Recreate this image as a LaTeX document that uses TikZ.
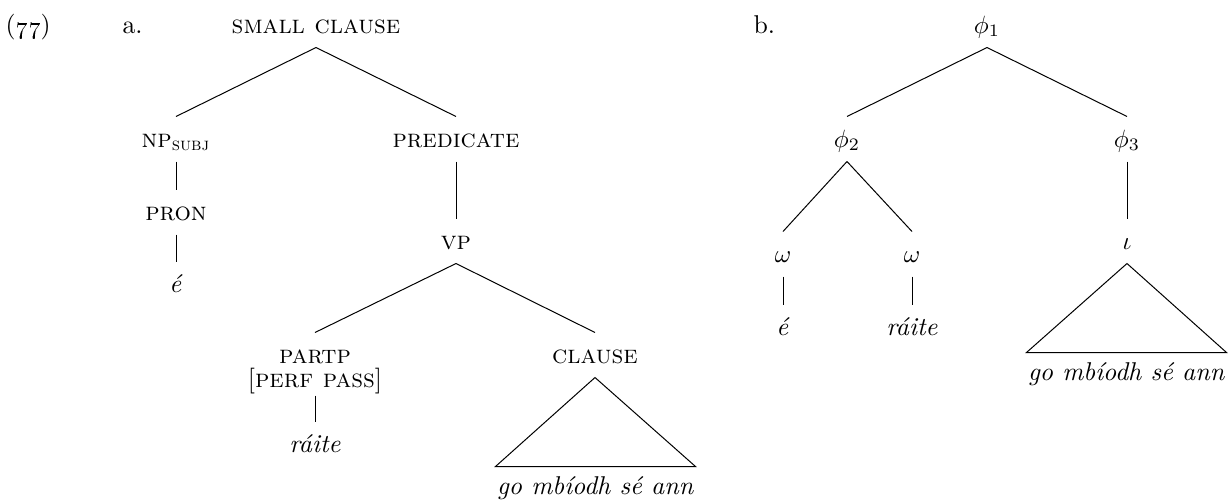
\documentclass[tikz,border=0pt]{standalone}
\usepackage{tikz}

\tikzset{
lbl/.style = {anchor=base, inner sep=0pt, text height=12pt, text depth=5.6pt},
yield/.style = {anchor=base, inner sep=0pt, text height=10.8pt, text depth=0pt, minimum width=79.6pt},
}

\begin{document}
\begin{tikzpicture}[x=0.4pt,y=-0.4pt,font=\fontsize{10.3}{12}\selectfont]
\useasboundingbox (0,0) rectangle (1228,502);

\node[anchor=base west,inner sep=0pt] (ex) at (5,33) {(\oldstylenums{77})};
\node[anchor=base west,inner sep=0pt] (a) at (122,33) {a.};
\node[anchor=base west,inner sep=0pt] (b) at (753,33) {b.};

% syntactic tree
\node[lbl] (sc) at (316,33) {\textsc{small clause}};
\node[lbl] (np) at (176,147) {\textsc{np}\textsubscript{\textsc{subj}}};
\node[lbl] (pred) at (456,147) {\textsc{predicate}};
\node[lbl] (pron) at (176,220) {\textsc{pron}};
\node[lbl] (e) at (176,292) {\textit{é}};
\node[lbl] (vp) at (456,249) {\textsc{vp}};
\node[lbl] (partp) at (315,363) {\textsc{partp}};
\node[lbl,text depth=3.2pt] (feat) at (315,387) {[\textsc{perf pass}]};
\node[lbl] (raite) at (315,452) {\textit{ráite}};
\node[lbl] (clause) at (595,363) {\textsc{clause}};
\node[yield] (ya) at (595.5,494) {\textit{go mbíodh sé ann}};

\foreach \p/\c in {sc/np,sc/pred,np/pron,pron/e,pred/vp,vp/partp,vp/clause,feat/raite}
	\draw (\p.south) -- (\c.north);
\draw (clause.south) -- (ya.north west) -- (ya.north east) -- cycle;

% prosodic tree
\node[lbl] (phi1) at (987,33) {$\phi_1$};
\node[lbl] (phi2) at (847,147) {$\phi_2$};
\node[lbl] (phi3) at (1127,147) {$\phi_3$};
\node[lbl] (w1) at (783,262) {$\omega$};
\node[lbl] (w2) at (912,262) {$\omega$};
\node[lbl] (eb) at (783,335) {\textit{é}};
\node[lbl] (raiteb) at (912,335) {\textit{ráite}};
\node[lbl] (iota) at (1127,249) {$\iota$};
\node[yield] (yb) at (1126.5,380) {\textit{go mbíodh sé ann}};

\foreach \p/\c in {phi1/phi2,phi1/phi3,phi2/w1,phi2/w2,w1/eb,w2/raiteb,phi3/iota}
	\draw (\p.south) -- (\c.north);
\draw (iota.south) -- (yb.north west) -- (yb.north east) -- cycle;
\end{tikzpicture}
\end{document}
